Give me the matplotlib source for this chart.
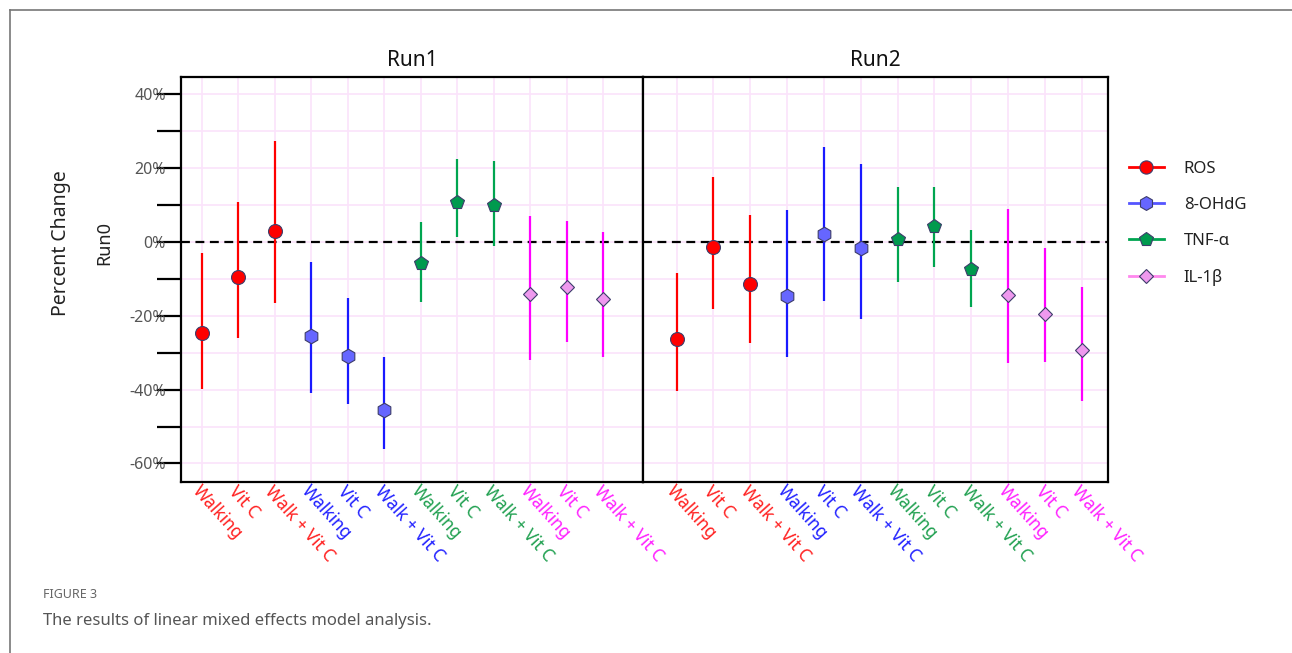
import numpy as np
import matplotlib
matplotlib.use("Agg")
import matplotlib.pyplot as plt
from matplotlib.lines import Line2D

plt.rcParams["font.family"] = ["Noto Sans", "DejaVu Sans"]

# ---- data (percent change vs Run0) ----
conditions = ["Walking", "Vit C", "Walk + Vit C"]
markers_names = ["ROS", "8-OHdG", "TNF-\u03b1", "IL-1\u03b2"]

# Run1: estimate, lower, upper (per marker, per condition)
run1_est = {
    "ROS": [-24.6, -9.5, 2.9],
    "8-OHdG": [-25.4, -30.8, -45.5],
    "TNF-\u03b1": [-5.6, 10.9, 9.9],
    "IL-1\u03b2": [-14.1, -12.3, -15.4],
}
run1_lo = {
    "ROS": [-39.8, -26.1, -16.4],
    "8-OHdG": [-41.0, -43.9, -56.1],
    "TNF-\u03b1": [-16.3, 1.4, -1.0],
    "IL-1\u03b2": [-32.1, -27.1, -31.1],
}
run1_hi = {
    "ROS": [-2.9, 10.8, 27.4],
    "8-OHdG": [-5.3, -15.1, -31.1],
    "TNF-\u03b1": [5.5, 22.4, 22.0],
    "IL-1\u03b2": [6.9, 5.7, 2.8],
}

run2_est = {
    "ROS": [-26.4, -1.4, -11.5],
    "8-OHdG": [-14.5, 2.2, -1.7],
    "TNF-\u03b1": [0.8, 4.4, -7.4],
    "IL-1\u03b2": [-14.3, -19.5, -29.3],
}
run2_lo = {
    "ROS": [-40.3, -18.2, -27.5],
    "8-OHdG": [-31.1, -15.9, -20.8],
    "TNF-\u03b1": [-10.8, -6.9, -17.5],
    "IL-1\u03b2": [-32.9, -32.4, -43.0],
}
run2_hi = {
    "ROS": [-8.5, 17.6, 7.3],
    "8-OHdG": [8.7, 25.7, 21.0],
    "TNF-\u03b1": [15.0, 15.0, 3.3],
    "IL-1\u03b2": [8.9, -1.6, -12.1],
}

# ---- styles ----
line_colors = {"ROS": "#ff0000", "8-OHdG": "#1a1aff", "TNF-\u03b1": "#00a550", "IL-1\u03b2": "#ff00ff"}
fill_colors = {"ROS": "#ff0000", "8-OHdG": "#6666ff", "TNF-\u03b1": "#009a4e", "IL-1\u03b2": "#ee99ee"}
legend_line = {"ROS": "#ff0000", "8-OHdG": "#5555ff", "TNF-\u03b1": "#00a550", "IL-1\u03b2": "#ff88ee"}
label_colors = {"ROS": "#ff2020", "8-OHdG": "#2020ff", "TNF-\u03b1": "#20a050", "IL-1\u03b2": "#ff20ff"}
mshape = {"ROS": "o", "8-OHdG": "h", "TNF-\u03b1": "p", "IL-1\u03b2": "D"}
msize = {"ROS": 10, "8-OHdG": 10.5, "TNF-\u03b1": 10.5, "IL-1\u03b2": 7.5}
edge = "#3d3d6b"
grid_col = "#fbe3fb"

fig = plt.figure(figsize=(12.92, 6.53), dpi=100)
ax1 = fig.add_axes([0.1401, 0.2614, 0.3573, 0.6202])
ax2 = fig.add_axes([0.4974, 0.2614, 0.3604, 0.6202])


def draw_panel(ax, est, lo, hi, xlim, title):
    xs = np.arange(12)
    tick_labels = []
    tick_cols = []
    i = 0
    for m in markers_names:
        for j, cond in enumerate(conditions):
            ax.vlines(i, lo[m][j], hi[m][j], color=line_colors[m], lw=1.6, zorder=3)
            ax.plot(i, est[m][j], marker=mshape[m], ms=msize[m], mfc=fill_colors[m],
                    mec=edge, mew=0.8, ls="none", zorder=4)
            tick_labels.append(cond)
            tick_cols.append(label_colors[m])
            i += 1
    ax.axhline(0, color="black", ls=(0, (4, 2.5)), lw=1.6, zorder=2)
    ax.set_xlim(*xlim)
    ax.set_ylim(-65.1, 44.6)
    ax.set_xticks(xs)
    ax.set_xticklabels(tick_labels, rotation=-48, ha="left", va="top",
                       rotation_mode="anchor", fontsize=12.5)
    for t, c in zip(ax.get_xticklabels(), tick_cols):
        t.set_color(c)
    ax.tick_params(axis="x", length=0, pad=0)
    ax.set_yticks(np.arange(-60, 41, 20))
    ax.set_yticks(np.arange(-50, 40, 20), minor=True)
    ax.grid(True, which="both", color=grid_col, lw=1.2, zorder=0)
    ax.set_axisbelow(True)
    for s in ax.spines.values():
        s.set_linewidth(1.6)
        s.set_color("black")
    ax.set_title(title, fontsize=15, color="#111111", pad=8)


draw_panel(ax1, run1_est, run1_lo, run1_hi, (-0.567, 12.08), "Run1")
draw_panel(ax2, run2_est, run2_lo, run2_hi, (-0.923, 11.72), "Run2")

ax1.set_yticklabels([f"{v}%" for v in range(-60, 41, 20)])
ax1.tick_params(axis="y", which="both", length=17, width=1.6, direction="out",
                pad=-6, labelsize=11.5, labelcolor="#555555")
ax2.tick_params(axis="y", which="both", left=False, labelleft=False)

fig.text(0.047, 0.628, "Percent Change", rotation=90, ha="center", va="center",
         fontsize=14, color="#222222")
fig.text(0.081, 0.628, "Run0", rotation=90, ha="center", va="center",
         fontsize=13, color="#222222")

# legend
handles = [Line2D([0], [0], color=legend_line[m], lw=2, marker=mshape[m],
                  ms=msize[m] * 0.95, mfc=fill_colors[m], mec=edge, mew=0.8)
           for m in markers_names]
fig.legend(handles, markers_names, loc="upper left", bbox_to_anchor=(0.862, 0.776),
           frameon=False, fontsize=12, labelspacing=1.2, handlelength=2.1,
           handletextpad=1.2, labelcolor="#222222")

# outer frame and caption
fig.add_artist(Line2D([0.0077, 1.0], [0.9847, 0.9847], color="#777777", lw=1.2))
fig.add_artist(Line2D([0.0077, 0.0077], [0.0, 0.9847], color="#777777", lw=1.2))
fig.text(0.033, 0.084, "FIGURE 3", fontsize=9, color="#666666", fontweight="bold")
fig.text(0.033, 0.043, "The results of linear mixed effects model analysis.",
         fontsize=12, color="#555555")

fig.savefig("out.png", dpi=100)
